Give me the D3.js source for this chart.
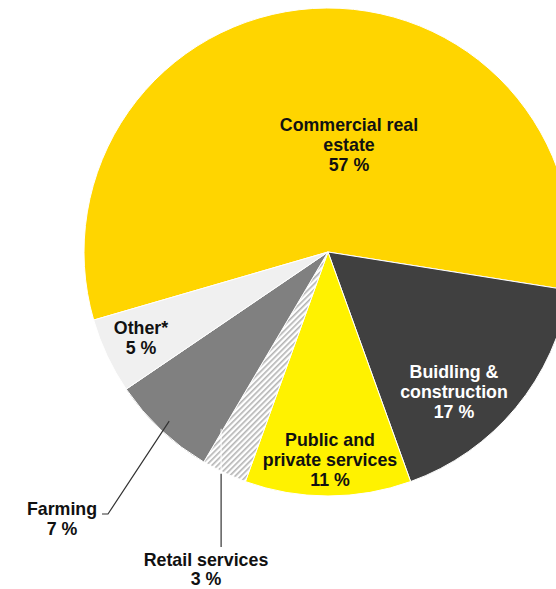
<!DOCTYPE html>
<html>
<head>
<meta charset="utf-8">
<script src="https://cdn.jsdelivr.net/npm/d3@7"></script>
<style>
  html, body { margin: 0; padding: 0; background: #fff; }
  svg { display: block; }
  text { font-family: "Liberation Sans", Arial, sans-serif; font-weight: bold; font-size: 17.8px; }
</style>
</head>
<body>
<svg id="chart" width="556" height="589"></svg>
<script>
// Loan portfolio by sector (share of total, %)
const categories = ["Commercial real estate", "Buidling & construction", "Public and private services", "Retail services", "Farming", "Other*"];
const shares = [57, 17, 11, 3, 7, 5];
const labelLines = [
  ["Commercial real", "estate", "57 %"],
  ["Buidling &", "construction", "17 %"],
  ["Public and", "private services", "11 %"],
  ["Retail services", "3 %"],
  ["Farming", "7 %"],
  ["Other*", "5 %"]
];

const fills = ["#FFD500", "#404040", "#FFF200", "url(#hatch)", "#808080", "#F0F0F0"];
const textFill = ["#111", "#fff", "#111", "#111", "#111", "#111"];

const W = 556, H = 589;
const cx = 328, cy = 252, R = 244;
const deg = Math.PI / 180;

const svg = d3.select("#chart");
const defs = svg.append("defs");
const pat = defs.append("pattern")
  .attr("id", "hatch")
  .attr("patternUnits", "userSpaceOnUse")
  .attr("width", 4).attr("height", 4)
  .attr("patternTransform", "rotate(-45)");
pat.append("rect").attr("width", 4).attr("height", 4).attr("fill", "#fff");
pat.append("rect").attr("width", 4).attr("height", 1.6).attr("fill", "#b4b4b4");

const pie = d3.pie().sort(null).value(d => d)
  .startAngle(-106.2 * deg).endAngle(253.8 * deg);
const arcs = pie(shares);
const arc = d3.arc().innerRadius(0).outerRadius(R);

const g = svg.append("g").attr("transform", `translate(${cx},${cy})`);
g.selectAll("path.slice")
  .data(arcs)
  .join("path")
  .attr("class", "slice")
  .attr("d", arc)
  .attr("fill", (d, i) => fills[i])
  .attr("stroke", "#fff")
  .attr("stroke-width", 1);

// Leader lines for the two outside labels (start at the slice's outer arc)
const edge = (a, r) => [Math.sin(a) * r, -Math.cos(a) * r];
const mid = d => (d.startAngle + d.endAngle) / 2;

// Retail services: vertical line down from the slice
{
  const p = edge(mid(arcs[3]), R);
  const x = p[0] - 3;
  g.append("line").attr("x1", x).attr("x2", x).attr("y1", p[1] - 44).attr("y2", p[1])
    .attr("stroke", "#fff").attr("stroke-width", 1);
  g.append("line").attr("x1", x).attr("x2", x).attr("y1", p[1] + 1).attr("y2", 547 - cy)
    .attr("stroke", "#333").attr("stroke-width", 1.2);
}
// Farming: diagonal line then short horizontal tick toward the label
{
  const p = edge(mid(arcs[4]), R - 12);
  g.append("polyline")
    .attr("points", [[p[0], p[1]], [108 - cx, 514 - cy], [102 - cx, 514 - cy]].map(q => q.join(",")).join(" "))
    .attr("fill", "none").attr("stroke", "#333").attr("stroke-width", 1.2);
}

// Label anchors (centre x, first baseline y) in page coordinates
const anchors = [[349, 131], [454, 378], [330, 446], [206, 566], [62, 515], [141, 334]];
const lh = 20;
anchors.forEach((a, i) => {
  const t = svg.append("text")
    .attr("text-anchor", "middle")
    .attr("fill", textFill[i]);
  labelLines[i].forEach((line, k) => {
    t.append("tspan").attr("x", a[0]).attr("y", a[1] + k * (i === 3 ? 19 : lh)).text(line);
  });
});
</script>
</body>
</html>
